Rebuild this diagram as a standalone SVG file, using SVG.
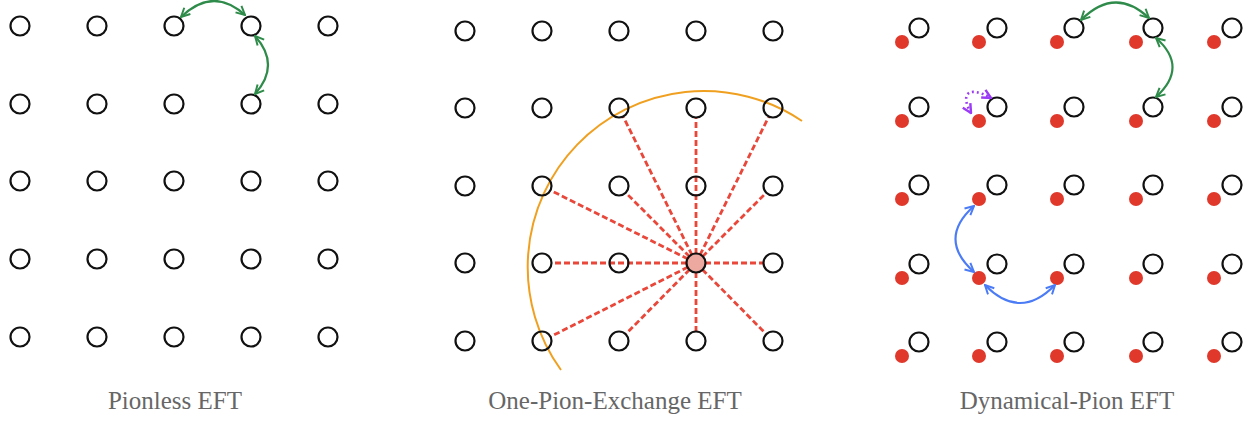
<svg xmlns="http://www.w3.org/2000/svg" width="1255" height="421" viewBox="0 0 1255 421">
<style>
.n{fill:none;stroke:#111;stroke-width:2.2}
.d{fill:#E0382B}
.lbl{font-family:"Liberation Serif","Times New Roman",serif;font-size:25px;fill:#666;text-anchor:middle}
.g{fill:none;stroke:#2E8B4A;stroke-width:2.2}
.b{fill:none;stroke:#4B7BF5;stroke-width:2.2}
.p{fill:none;stroke:#9B3BF5;stroke-width:2.6;stroke-dasharray:2 3}
.r{stroke:#E8473A;stroke-width:2.8;stroke-dasharray:6 3;fill:none}
</style>
<defs>
<marker id="ag" viewBox="0 0 10 10" refX="9" refY="5" markerWidth="11" markerHeight="11" markerUnits="userSpaceOnUse" orient="auto-start-reverse"><path d="M1,1 L9,5 L1,9" fill="none" stroke="#2E8B4A" stroke-width="1.8"/></marker>
<marker id="ab" viewBox="0 0 10 10" refX="9" refY="5" markerWidth="11" markerHeight="11" markerUnits="userSpaceOnUse" orient="auto-start-reverse"><path d="M1,1 L9,5 L1,9" fill="none" stroke="#4B7BF5" stroke-width="1.8"/></marker>
<marker id="ap" viewBox="0 0 10 10" refX="9" refY="5" markerWidth="11" markerHeight="11" markerUnits="userSpaceOnUse" orient="auto-start-reverse"><path d="M1,1 L9,5 L1,9" fill="none" stroke="#9B3BF5" stroke-width="2.2"/></marker>
</defs>
<rect width="1255" height="421" fill="#fff"/>

<g id="panel1">
<g id="p1-nodes">
<circle class="n" cx="20" cy="26" r="9.5"/><circle class="n" cx="97" cy="26" r="9.5"/><circle class="n" cx="174" cy="26" r="9.5"/><circle class="n" cx="251" cy="26" r="9.5"/><circle class="n" cx="328" cy="26" r="9.5"/>
<circle class="n" cx="20" cy="104" r="9.5"/><circle class="n" cx="97" cy="104" r="9.5"/><circle class="n" cx="174" cy="104" r="9.5"/><circle class="n" cx="251" cy="104" r="9.5"/><circle class="n" cx="328" cy="104" r="9.5"/>
<circle class="n" cx="20" cy="181" r="9.5"/><circle class="n" cx="97" cy="181" r="9.5"/><circle class="n" cx="174" cy="181" r="9.5"/><circle class="n" cx="251" cy="181" r="9.5"/><circle class="n" cx="328" cy="181" r="9.5"/>
<circle class="n" cx="20" cy="259" r="9.5"/><circle class="n" cx="97" cy="259" r="9.5"/><circle class="n" cx="174" cy="259" r="9.5"/><circle class="n" cx="251" cy="259" r="9.5"/><circle class="n" cx="328" cy="259" r="9.5"/>
<circle class="n" cx="20" cy="337" r="9.5"/><circle class="n" cx="97" cy="337" r="9.5"/><circle class="n" cx="174" cy="337" r="9.5"/><circle class="n" cx="251" cy="337" r="9.5"/><circle class="n" cx="328" cy="337" r="9.5"/>
</g>
<g id="p1-connectors">
<path class="g" d="M181,17 Q213,-14 245,15" marker-start="url(#ag)" marker-end="url(#ag)"/>
<path class="g" d="M255,36 Q281,65 255,94" marker-start="url(#ag)" marker-end="url(#ag)"/>
</g>
<text class="lbl" x="175" y="409">Pionless EFT</text>
</g>

<g id="panel2">
<g id="p2-connectors">
<path d="M561,370 A176,176 0 0 1 802,121" fill="none" stroke="#F0A020" stroke-width="2"/>
<g class="r">
<line x1="696" y1="263" x2="623.4" y2="117"/>
<line x1="696" y1="263" x2="696" y2="118"/>
<line x1="696" y1="263" x2="768.6" y2="117"/>
<line x1="696" y1="263" x2="550.9" y2="190.5"/>
<line x1="696" y1="263" x2="626.1" y2="193.1"/>
<line x1="696" y1="263" x2="765.9" y2="193.1"/>
<line x1="696" y1="263" x2="552" y2="263"/>
<line x1="696" y1="263" x2="763" y2="263"/>
<line x1="696" y1="263" x2="550.9" y2="336.5"/>
<line x1="696" y1="263" x2="626" y2="333.9"/>
<line x1="696" y1="263" x2="696" y2="331"/>
<line x1="696" y1="263" x2="766" y2="333.9"/>
</g>
</g>
<g id="p2-nodes">
<circle class="n" cx="465" cy="31" r="9.5"/><circle class="n" cx="542" cy="31" r="9.5"/><circle class="n" cx="619" cy="31" r="9.5"/><circle class="n" cx="696" cy="31" r="9.5"/><circle class="n" cx="773" cy="31" r="9.5"/>
<circle class="n" cx="465" cy="108" r="9.5"/><circle class="n" cx="542" cy="108" r="9.5"/><circle class="n" cx="619" cy="108" r="9.5"/><circle class="n" cx="696" cy="108" r="9.5"/><circle class="n" cx="773" cy="108" r="9.5"/>
<circle class="n" cx="465" cy="186" r="9.5"/><circle class="n" cx="542" cy="186" r="9.5"/><circle class="n" cx="619" cy="186" r="9.5"/><circle class="n" cx="696" cy="186" r="9.5"/><circle class="n" cx="773" cy="186" r="9.5"/>
<circle class="n" cx="465" cy="263" r="9.5"/><circle class="n" cx="542" cy="263" r="9.5"/><circle class="n" cx="619" cy="263" r="9.5"/><circle cx="696" cy="263" r="9.5" fill="#EDA89F" stroke="#111" stroke-width="2.2"/><circle class="n" cx="773" cy="263" r="9.5"/>
<circle class="n" cx="465" cy="341" r="9.5"/><circle class="n" cx="542" cy="341" r="9.5"/><circle class="n" cx="619" cy="341" r="9.5"/><circle class="n" cx="696" cy="341" r="9.5"/><circle class="n" cx="773" cy="341" r="9.5"/>
</g>
<text class="lbl" x="615" y="409">One-Pion-Exchange EFT</text>
</g>

<g id="panel3">
<g id="p3-nodes">
<g id="p3-pions">
<circle class="d" cx="902" cy="42" r="7"/><circle class="d" cx="979" cy="42" r="7"/><circle class="d" cx="1057" cy="42" r="7"/><circle class="d" cx="1136" cy="42" r="7"/><circle class="d" cx="1214" cy="42" r="7"/>
<circle class="d" cx="902" cy="121" r="7"/><circle class="d" cx="979" cy="121" r="7"/><circle class="d" cx="1057" cy="121" r="7"/><circle class="d" cx="1136" cy="121" r="7"/><circle class="d" cx="1214" cy="121" r="7"/>
<circle class="d" cx="902" cy="199" r="7"/><circle class="d" cx="979" cy="199" r="7"/><circle class="d" cx="1057" cy="199" r="7"/><circle class="d" cx="1136" cy="199" r="7"/><circle class="d" cx="1214" cy="199" r="7"/>
<circle class="d" cx="902" cy="278" r="7"/><circle class="d" cx="979" cy="278" r="7"/><circle class="d" cx="1057" cy="278" r="7"/><circle class="d" cx="1136" cy="278" r="7"/><circle class="d" cx="1214" cy="278" r="7"/>
<circle class="d" cx="902" cy="356" r="7"/><circle class="d" cx="979" cy="356" r="7"/><circle class="d" cx="1057" cy="356" r="7"/><circle class="d" cx="1136" cy="356" r="7"/><circle class="d" cx="1214" cy="356" r="7"/>
</g>
<g id="p3-nucleons">
<circle class="n" cx="919" cy="28" r="9.5"/><circle class="n" cx="997" cy="28" r="9.5"/><circle class="n" cx="1074" cy="28" r="9.5"/><circle class="n" cx="1153" cy="28" r="9.5"/><circle class="n" cx="1232" cy="28" r="9.5"/>
<circle class="n" cx="919" cy="107" r="9.5"/><circle class="n" cx="997" cy="107" r="9.5"/><circle class="n" cx="1074" cy="107" r="9.5"/><circle class="n" cx="1153" cy="107" r="9.5"/><circle class="n" cx="1232" cy="107" r="9.5"/>
<circle class="n" cx="919" cy="185" r="9.5"/><circle class="n" cx="997" cy="185" r="9.5"/><circle class="n" cx="1074" cy="185" r="9.5"/><circle class="n" cx="1153" cy="185" r="9.5"/><circle class="n" cx="1232" cy="185" r="9.5"/>
<circle class="n" cx="919" cy="264" r="9.5"/><circle class="n" cx="997" cy="264" r="9.5"/><circle class="n" cx="1074" cy="264" r="9.5"/><circle class="n" cx="1153" cy="264" r="9.5"/><circle class="n" cx="1232" cy="264" r="9.5"/>
<circle class="n" cx="919" cy="342" r="9.5"/><circle class="n" cx="997" cy="342" r="9.5"/><circle class="n" cx="1074" cy="342" r="9.5"/><circle class="n" cx="1153" cy="342" r="9.5"/><circle class="n" cx="1232" cy="342" r="9.5"/>
</g>
</g>
<g id="p3-connectors">
<path class="g" d="M1081,20 Q1115,-14 1149,18" marker-start="url(#ag)" marker-end="url(#ag)"/>
<path class="g" d="M1156,38 Q1189,67 1156,97" marker-start="url(#ag)" marker-end="url(#ag)"/>
<path class="p" d="M971,113 C961,96 966,84 991,98" marker-start="url(#ap)" marker-end="url(#ap)"/>
<path class="b" d="M974,206 Q937,239 974,272" marker-start="url(#ab)" marker-end="url(#ab)"/>
<path class="b" d="M985,285 Q1020,321 1055,285" marker-start="url(#ab)" marker-end="url(#ab)"/>
</g>
<text class="lbl" x="1067" y="409">Dynamical-Pion EFT</text>
</g>
</svg>
